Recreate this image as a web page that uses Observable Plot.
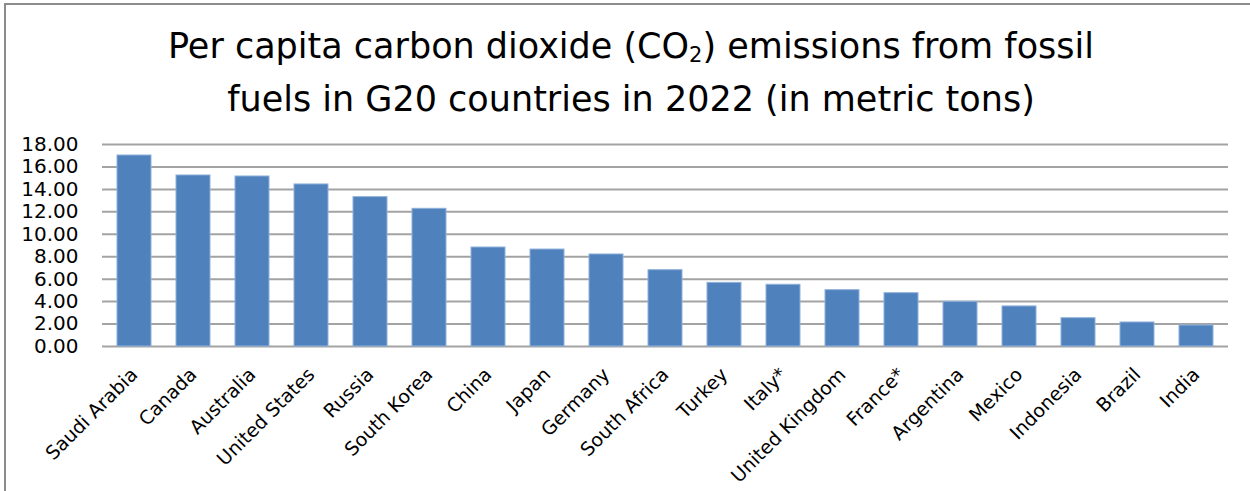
<!DOCTYPE html>
<html><head><meta charset="utf-8">
<script src="https://cdn.jsdelivr.net/npm/d3@7"></script>
<script src="https://cdn.jsdelivr.net/npm/@observablehq/plot@0.6"></script>
<style>
body{margin:0;background:#fff;}
#wrap{position:relative;width:1250px;height:491px;overflow:hidden;background:#fff;}
#frame{position:absolute;left:4px;top:3px;width:1270px;height:520px;border-top:2px solid #8c8c8c;border-left:2px solid #8c8c8c;}
#title{position:absolute;left:0;top:24px;width:1262px;text-align:center;font-family:"DejaVu Sans";font-size:35px;line-height:44px;color:#000;}
#title .sub{font-size:0.6em;vertical-align:-0.2em;}
#chart{position:absolute;left:0;top:125px;}
</style></head>
<body>
<div id="wrap"><div id="frame"></div>
<div id="title">Per capita carbon dioxide (CO<span class="sub">2</span>) emissions from fossil<br>fuels in G20 countries in 2022 (in metric tons)</div>
<div id="chart"></div></div>
<script>
const countries = ["Saudi Arabia","Canada","Australia","United States","Russia","South Korea","China","Japan","Germany","South Africa","Turkey","Italy*","United Kingdom","France*","Argentina","Mexico","Indonesia","Brazil","India"];
const values = [17.02,15.24,15.15,14.44,13.31,12.27,8.82,8.64,8.20,6.80,5.67,5.50,5.02,4.75,3.98,3.57,2.52,2.14,1.87];
const yTicks = [0,2,4,6,8,10,12,14,16,18];

const data = countries.map((c,i)=>({country:c, value:values[i]}));

const chart = Plot.plot({
  width:1250, height:366,
  marginTop:19, marginBottom:145, marginLeft:102, marginRight:22,
  x:{domain:countries, paddingInner:0.42, paddingOuter:0.21, label:null},
  y:{domain:[0,18], label:null},
  style:{fontFamily:"DejaVu Sans", fontSize:"19px", color:"#000", background:"transparent", overflow:"visible"},
  marks:[
    Plot.gridY(yTicks,{stroke:"#a3a3a3", strokeOpacity:1, strokeWidth:2}),
    Plot.barY(data,{x:"country", y:"value", fill:"#4F81BD", stroke:"#8fb0da", strokeWidth:1}),
    Plot.axisY({ticks:yTicks, tickFormat:d3.format(".2f"), tickSize:0, tickPadding:24, label:null, fontSize:20}),
    Plot.axisX({tickSize:0, tickRotate:-45, tickPadding:25, label:null, fontSize:19})
  ]
});
document.getElementById("chart").appendChild(chart);
</script>
</body></html>
